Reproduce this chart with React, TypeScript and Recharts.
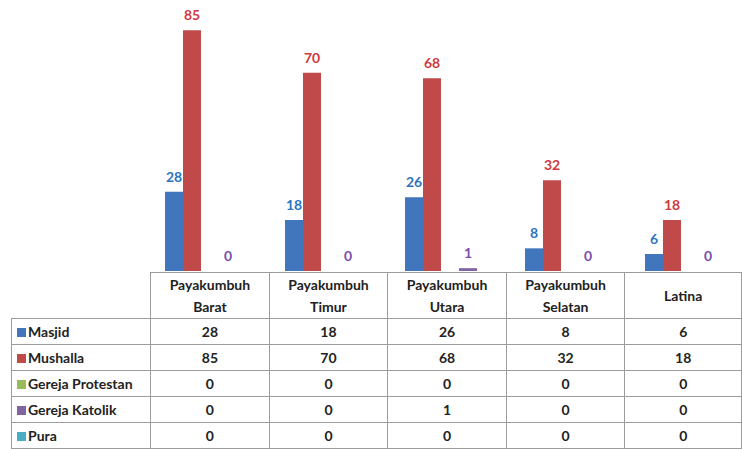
import React from 'react';
import { BarChart, Bar, XAxis, YAxis, LabelList } from 'recharts';

const categories = ['Payakumbuh Barat', 'Payakumbuh Timur', 'Payakumbuh Utara', 'Payakumbuh Selatan', 'Latina'];
const masjid = [28, 18, 26, 8, 6];
const mushalla = [85, 70, 68, 32, 18];
const gerejaProtestan = [0, 0, 0, 0, 0];
const gerejaKatolik = [0, 0, 1, 0, 0];
const pura = [0, 0, 0, 0, 0];

const series = [
  { key: 'masjid', name: 'Masjid', values: masjid, color: '#4176BC', label: '#2C74C4' },
  { key: 'mushalla', name: 'Mushalla', values: mushalla, color: '#C0494A', label: '#CF3A3D' },
  { key: 'protestan', name: 'Gereja Protestan', values: gerejaProtestan, color: '#9BBB59', label: null },
  { key: 'katolik', name: 'Gereja Katolik', values: gerejaKatolik, color: '#8064A2', label: '#7B4DAA' },
  { key: 'pura', name: 'Pura', values: pura, color: '#4BACC6', label: null },
];

const chartData = categories.map((name, i) => {
  const row: Record<string, string | number> = { name };
  series.forEach((s) => { row[s.key] = s.values[i]; });
  return row;
});

const FONT = 'Lato, "Open Sans", sans-serif';
const BORDER = '1px solid #9c9c9c';

// draws the value even when the bar has zero height
const makeLabel = (color: string) => (p: any) => {
  const x = Number(p.x) + Number(p.width) / 2;
  const y = Math.min(Number(p.y), Number(p.y) + Number(p.height)) - 10;
  return (
    <text x={x} y={y} textAnchor="middle" fill={color}
      style={{ fontFamily: FONT, fontWeight: 700, fontSize: 14 }}>
      {p.value}
    </text>
  );
};

export default function App() {
  return (
    <div style={{ position: 'fixed', left: 0, top: 0, width: 742, height: 449, overflow: 'hidden', background: '#fff', fontFamily: FONT }}>
      <BarChart
        width={760}
        height={272}
        data={chartData}
        margin={{ top: 16, right: 9, left: 151, bottom: 1 }}
        barCategoryGap={14}
        barGap={0}
      >
        <XAxis dataKey="name" hide />
        <YAxis hide domain={[0, 90]} />
        {series.map((s) => (
          <Bar
            key={s.key}
            dataKey={s.key}
            fill={s.color}
            isAnimationActive={false}
            minPointSize={s.label ? 0.01 : 0}
          >
            {s.label && <LabelList dataKey={s.key} content={makeLabel(s.label)} />}
          </Bar>
        ))}
      </BarChart>
      <table
        style={{
          position: 'absolute', left: 11, top: 272, borderCollapse: 'collapse', tableLayout: 'fixed',
          fontFamily: FONT, fontWeight: 700, fontSize: 14, color: '#222',
        }}
      >
        <colgroup>
          <col style={{ width: 140 }} />
          {categories.map((c) => <col key={c} style={{ width: 120 }} />)}
        </colgroup>
        <tbody>
          <tr style={{ height: 46 }}>
            <td style={{ borderTop: 'none', borderLeft: 'none', borderBottom: BORDER, borderRight: BORDER }} />
            {categories.map((c) => (
              <td key={c} style={{ border: BORDER, textAlign: 'center', lineHeight: '22px', padding: '0 4px' }}>{c}</td>
            ))}
          </tr>
          {series.map((s) => (
            <tr key={s.key} style={{ height: 26 }}>
              <td style={{ border: BORDER, padding: '0 0 0 5px', whiteSpace: 'nowrap' }}>
                <span style={{ display: 'inline-block', width: 9, height: 9, background: s.color, marginRight: 2 }} />
                {s.name}
              </td>
              {s.values.map((v, i) => (
                <td key={i} style={{ border: BORDER, textAlign: 'center', padding: 0 }}>{v}</td>
              ))}
            </tr>
          ))}
        </tbody>
      </table>
    </div>
  );
}
